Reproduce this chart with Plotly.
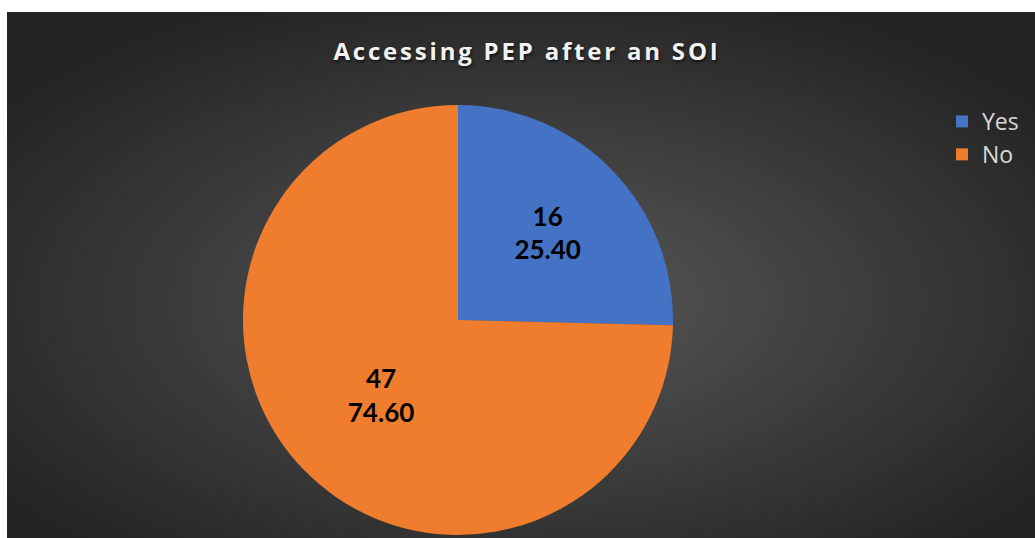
import base64
import plotly.graph_objects as go

# Survey answers
categories = ["Yes", "No"]
counts = [16, 47]
slice_colors = ["#4472C4", "#F07D2E"]

total = sum(counts)
pct_labels = [f"{100 * c / total:.2f}" for c in counts]

W, H = 1035, 538

# Dark radial backdrop behind the chart
bg_svg = """<svg xmlns='http://www.w3.org/2000/svg' width='1000' height='1000' preserveAspectRatio='none' viewBox='0 0 1000 1000'>
<defs><radialGradient id='g' cx='50%' cy='55%' r='62%' fx='52%' fy='55%'>
<stop offset='0%' stop-color='#585858'/><stop offset='100%' stop-color='#242424'/>
</radialGradient></defs>
<rect width='1000' height='1000' fill='url(#g)'/></svg>"""
bg_uri = "data:image/svg+xml;base64," + base64.b64encode(bg_svg.encode()).decode()

fig = go.Figure(
    go.Pie(
        labels=categories,
        values=counts,
        customdata=pct_labels,
        texttemplate="%{value}<br>%{customdata}",
        textposition="inside",
        insidetextorientation="horizontal",
        textfont=dict(family="Lato", size=26, color="#000000", weight="bold"),
        marker=dict(colors=slice_colors, line=dict(width=0)),
        sort=False,
        direction="clockwise",
        rotation=0,
        hoverinfo="skip",
        domain=dict(x=[243 / W, 673 / W], y=[3 / H, 433 / H]),
    )
)

fig.update_layout(
    width=W,
    height=H,
    margin=dict(l=0, r=0, t=0, b=0),
    paper_bgcolor="#FFFFFF",
    images=[
        dict(
            source=bg_uri,
            xref="paper",
            yref="paper",
            x=7 / W,
            y=(H - 12) / H,
            sizex=(W - 7) / W,
            sizey=(H - 12) / H,
            xanchor="left",
            yanchor="top",
            sizing="stretch",
            layer="below",
        )
    ],
    title=dict(
        text="<span style='letter-spacing:2.8px'>Accessing PEP after an SOI</span>",
        x=527 / W,
        xanchor="center",
        y=(H - 52) / H,
        yanchor="middle",
        font=dict(family="Open Sans", size=24, color="#F2F2F2", weight="bold",
                  shadow="1px 2px 3px rgba(0,0,0,0.6)"),
    ),
    legend=dict(
        x=942 / W,
        xanchor="left",
        y=(H - 100) / H,
        yanchor="top",
        font=dict(family="Open Sans", size=23, color="#D9D9D9"),
        bgcolor="rgba(0,0,0,0)",
        itemclick=False,
    ),
)

fig.write_html("out.html")
